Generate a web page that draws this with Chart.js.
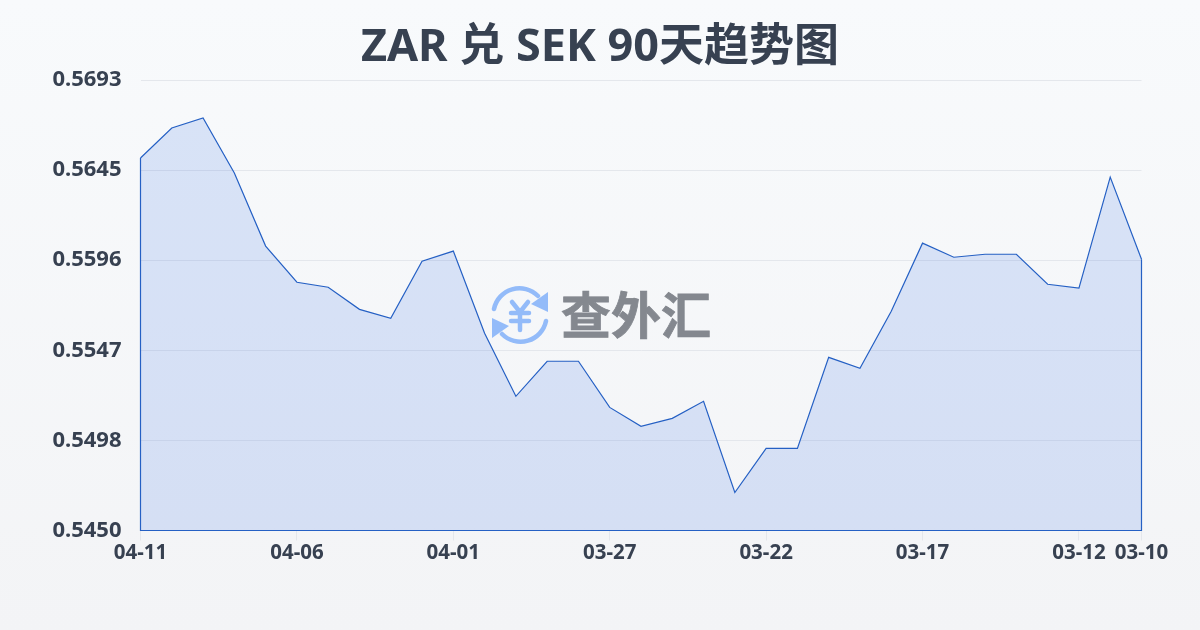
<!DOCTYPE html>
<html lang="zh-CN">
<head>
<meta charset="utf-8">
<title>ZAR 兑 SEK 90天趋势图</title>
<script src="https://cdn.jsdelivr.net/npm/chart.js@4"></script>
<style>
  html, body { margin: 0; padding: 0; }
  body { width: 1200px; height: 630px; overflow: hidden; position: relative; background: linear-gradient(180deg, #f8fafc 0%, #f3f4f6 100%); }
  #chart { position: absolute; left: 0; top: 0; }
  h1 { position: absolute; left: 0; top: 14px; width: 1200px; margin: 0; text-align: center; font: 700 45px/60px "Noto Sans", "Noto Sans CJK SC", sans-serif; color: #374151; }
  .watermark { position: absolute; left: 490px; top: 285px; display: flex; align-items: center; pointer-events: none; }
  .watermark svg { display: block; width: 60px; height: 60px; }
  .watermark span { position: relative; top: -3px; margin-left: 11px; font: 700 50px/60px "Noto Sans CJK SC", sans-serif; color: #84888f; -webkit-text-stroke: 0.8px #84888f; }
</style>
</head>
<body>
<canvas id="chart" width="1200" height="630"></canvas>
<h1>ZAR 兑 SEK 90天趋势图</h1>
<div class="watermark">
  <svg viewBox="0 0 60 60" fill="none" stroke="#93bbf9" stroke-linecap="round" stroke-linejoin="round">
    <path d="M4 24 A26 26 0 0 1 48 11" stroke-width="4.5"/>
    <path d="M58 7 L58 27 L41 19 Z" fill="#93bbf9" stroke="none"/>
    <path d="M56 36 A26 26 0 0 1 12 49" stroke-width="4.5"/>
    <path d="M2 33 L2 53 L19 41 Z" fill="#93bbf9" stroke="none"/>
    <path d="M22 17 L30 27 L38 17 M21 28 L39 28 M21 36 L39 36 M30 27 L30 45" stroke-width="4.5"/>
  </svg>
  <span>查外汇</span>
</div>
<script>
const dates = ['04-11','04-10','04-09','04-08','04-07','04-06','04-05','04-04','04-03','04-02','04-01','03-31','03-30','03-29','03-28','03-27','03-26','03-25','03-24','03-23','03-22','03-21','03-20','03-19','03-18','03-17','03-16','03-15','03-14','03-13','03-12','03-11','03-10'];
const rates = [0.56509,0.56671,0.56725,0.56428,0.56034,0.55839,0.55812,0.55693,0.55645,0.55953,0.56007,0.55564,0.55224,0.55413,0.55413,0.55164,0.55062,0.55105,0.55197,0.54705,0.54943,0.54943,0.55434,0.55375,0.55683,0.56050,0.55974,0.55990,0.55990,0.55828,0.55807,0.56406,0.55963];
const xTickLabels = ['04-11','04-06','04-01','03-27','03-22','03-17','03-12','03-10'];
const yTickValues = [0.5450,0.54986,0.55472,0.55958,0.56444,0.5693];
const yTickLabels = ['0.5450','0.5498','0.5547','0.5596','0.5645','0.5693'];

const textColor = '#374151';
const lineColor = '#2560c4';
const gridColor = '#e4e7ec';
const fontFamily = '"Noto Sans", "Noto Sans CJK SC", sans-serif';

// closes the outline: down both sides and along the base
const outlinePlugin = {
  id: 'outline',
  afterDatasetsDraw(chart) {
    const points = chart.getDatasetMeta(0).data;
    const first = points[0];
    const last = points[points.length - 1];
    const base = chart.scales.y.bottom;
    const ctx = chart.ctx;
    ctx.save();
    ctx.strokeStyle = lineColor;
    ctx.lineWidth = 1.2;
    ctx.beginPath();
    ctx.moveTo(first.x, first.y);
    ctx.lineTo(first.x, base);
    ctx.lineTo(last.x, base);
    ctx.lineTo(last.x, last.y);
    ctx.stroke();
    ctx.restore();
  }
};

new Chart(document.getElementById('chart'), {
  type: 'line',
  data: {
    labels: dates,
    datasets: [{
      data: rates,
      borderColor: lineColor,
      borderWidth: 1.2,
      backgroundColor: 'rgba(37,99,225,0.15)',
      fill: 'origin',
      tension: 0,
      pointRadius: 0
    }]
  },
  plugins: [outlinePlugin],
  options: {
    responsive: false,
    animation: false,
    layout: { padding: { left: 0, right: 58.5, top: 80, bottom: 0 } },
    plugins: {
      legend: { display: false },
      tooltip: { enabled: false }
    },
    scales: {
      x: {
        offset: false,
        border: { display: false },
        grid: { drawOnChartArea: false, drawTicks: true, tickLength: 10, tickColor: gridColor, tickWidth: 1 },
        ticks: { autoSkip: false, maxRotation: 0, minRotation: 0, padding: 0, color: textColor, font: { family: fontFamily, size: 20.5, weight: '700' } },
        afterBuildTicks(axis) {
          axis.ticks = axis.ticks.filter((t) => xTickLabels.includes(dates[t.value]) && t.value % 5 === 0 || t.value === dates.length - 1);
        },
        afterFit(axis) { axis.height = 99.5; }
      },
      y: {
        min: yTickValues[0],
        max: yTickValues[yTickValues.length - 1],
        border: { display: false },
        grid: { color: gridColor, lineWidth: 1, drawTicks: false },
        ticks: {
          padding: 19,
          color: textColor,
          font: { family: fontFamily, size: 22, weight: '700' },
          callback: (value, index) => yTickLabels[index]
        },
        afterBuildTicks(axis) { axis.ticks = yTickValues.map((value) => ({ value })); },
        afterFit(axis) { axis.width = 140.5; }
      }
    }
  }
});
</script>
</body>
</html>
